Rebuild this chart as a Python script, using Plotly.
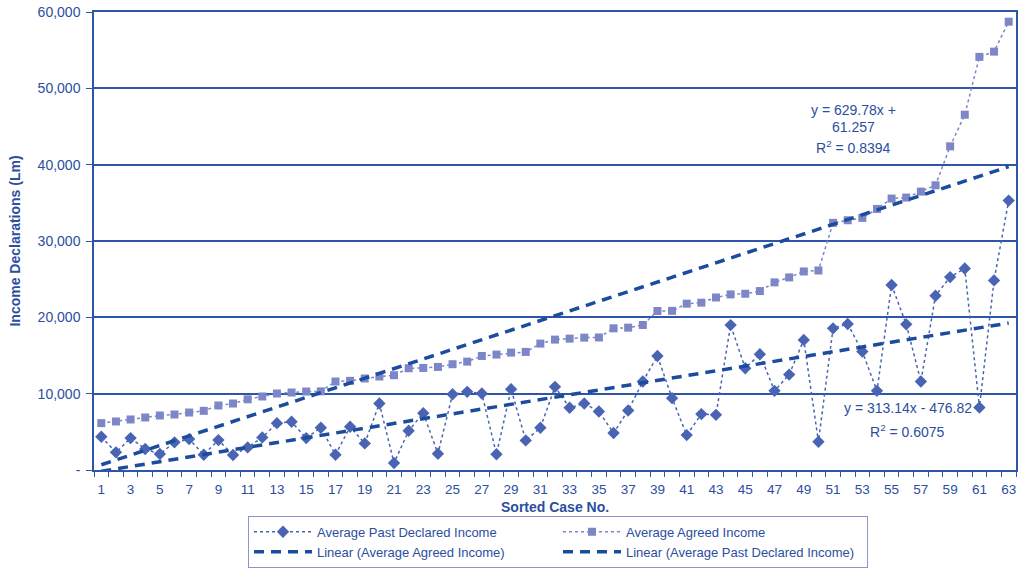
import numpy as np
import plotly.graph_objects as go

cases = list(range(1, 64))

past_declared = [4350, 2310, 4180, 2750, 2090, 3620, 4050, 2000, 3920, 1960,
                 2960, 4270, 6140, 6320, 4180, 5530, 2000, 5660, 3480, 8710,
                 915, 5140, 7450, 2135, 9930, 10240, 10020, 2070, 10590, 3880,
                 5530, 10890, 8150, 8710, 7670, 4840, 7800, 11590, 14940, 9410,
                 4575, 7320, 7230, 18980, 13330, 15160, 10370, 12500, 17040, 3700,
                 18560, 19130, 15510, 10370, 24230, 19080, 11590, 22830, 25270, 26400,
                 8190, 24840, 35290]

agreed = [6140, 6360, 6620, 6880, 7140, 7270, 7530, 7750, 8450, 8710,
          9260, 9630, 10020, 10150, 10280, 10300, 11590, 11680, 11990, 12250,
          12420, 13330, 13370, 13500, 13860, 14200, 14940, 15120, 15380, 15470,
          16560, 17080, 17210, 17340, 17360, 18560, 18650, 19000, 20830, 20850,
          21790, 21920, 22600, 23000, 23090, 23440, 24580, 25230, 26010, 26140,
          32380, 32720, 33030, 34200, 35560, 35690, 36470, 37300, 42400, 46540,
          54120, 54810, 58730]

# Trendline coefficients as displayed on the chart
agreed_fit = (629.78, 61.257)
past_fit = (313.14, -476.82)

y_tickvals = [0, 10000, 20000, 30000, 40000, 50000, 60000]
y_ticktext = ["-", "10,000", "20,000", "30,000", "40,000", "50,000", "60,000"]
x_tickvals = list(range(1, 64, 2))

BLUE_TEXT = "#2B4EA0"
GRID = "#2F55AA"
DIAMOND = "#4A64B4"
SQUARE = "#7D86C6"
TREND = "#1C4C9E"
FONT = "Liberation Sans, Arial, sans-serif"

x_arr = np.array(cases, dtype=float)
agreed_trend = agreed_fit[0] * x_arr + agreed_fit[1]
past_trend = past_fit[0] * x_arr + past_fit[1]

fig = go.Figure()
fig.add_trace(go.Scatter(
    x=cases, y=past_declared, mode="lines+markers",
    name="Average Past Declared Income",
    line=dict(color=DIAMOND, width=1.5, dash="3px,3px"),
    marker=dict(symbol="diamond", size=9.5, color=DIAMOND),
))
fig.add_trace(go.Scatter(
    x=cases, y=agreed, mode="lines+markers",
    name="Average Agreed Income",
    line=dict(color=SQUARE, width=1.5, dash="3px,3px"),
    marker=dict(symbol="square", size=8, color=SQUARE),
))
fig.add_trace(go.Scatter(
    x=cases, y=agreed_trend, mode="lines",
    name="Linear (Average Agreed Income)",
    line=dict(color=TREND, width=3.5, dash="10px,7px"),
))
fig.add_trace(go.Scatter(
    x=cases, y=past_trend, mode="lines",
    name="Linear (Average Past Declared Income)",
    line=dict(color=TREND, width=3.5, dash="10px,7px"),
))

ann_font = dict(family=FONT, size=14, color=BLUE_TEXT)
annotations = [
    dict(x=52.4, y=47100, text="y = 629.78x +", showarrow=False, font=ann_font),
    dict(x=52.4, y=44970, text="61.257", showarrow=False, font=ann_font),
    dict(x=52.4, y=42260, text="R<sup>2</sup> = 0.8394", showarrow=False, font=ann_font),
    dict(x=56.1, y=8100, text="y = 313.14x - 476.82", showarrow=False, font=ann_font),
    dict(x=56.1, y=5140, text="R<sup>2</sup> = 0.6075", showarrow=False, font=ann_font),
    dict(x=(556 - 94) / 924.0, y=-(508 - 471) / 459.0, xref="paper", yref="paper",
         text="<b>Sorted Case No.</b>",
         showarrow=False, xanchor="center", yanchor="middle",
         font=dict(family=FONT, size=14, color=BLUE_TEXT)),
]

fig.update_layout(
    width=1021, height=571,
    margin=dict(l=94, r=3, t=12, b=100),
    paper_bgcolor="white", plot_bgcolor="white",
    font=dict(family=FONT, color=BLUE_TEXT),
    showlegend=True,
    legend=dict(
        orientation="h", x=(559 - 94) / 924.0, xanchor="center",
        y=-(569 - 471) / 459.0, yanchor="bottom",
        entrywidth=236, entrywidthmode="pixels",
        bordercolor="#8A95CF", borderwidth=1,
        font=dict(family=FONT, size=13, color=BLUE_TEXT),
        tracegroupgap=0, itemwidth=58,
    ),
    annotations=annotations,
)

fig.update_xaxes(
    range=[0.5, 63.5], tickmode="array", tickvals=x_tickvals,
    ticks="", showgrid=False, zeroline=False,
    showline=True, linecolor=GRID, linewidth=1.5, mirror=True,
    tickfont=dict(family=FONT, size=13.5, color=BLUE_TEXT),
    ticklabelstandoff=6,
    minor=dict(tickmode="array", tickvals=[c + 0.5 for c in range(0, 64)],
               ticks="outside", ticklen=5, tickcolor=GRID, tickwidth=1, showgrid=False),
)
fig.update_yaxes(
    range=[0, 60000], tickmode="array", tickvals=y_tickvals, ticktext=y_ticktext,
    ticks="outside", ticklen=6, tickcolor=GRID, tickwidth=1,
    showgrid=True, gridcolor=GRID, gridwidth=1.5, zeroline=False,
    showline=True, linecolor=GRID, linewidth=1.5, mirror=True,
    tickfont=dict(family=FONT, size=14, color=BLUE_TEXT),
    ticklabelstandoff=3,
    title=dict(text="<b>Income Declarations (Lm)</b>", standoff=14,
               font=dict(family=FONT, size=14, color=BLUE_TEXT)),
)

fig.write_html("out.html")
